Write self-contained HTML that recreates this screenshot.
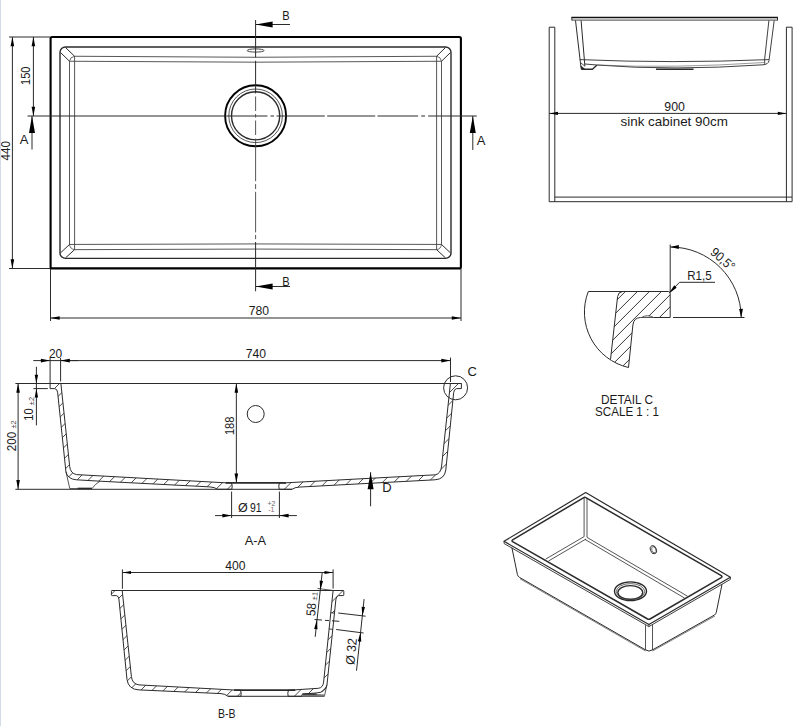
<!DOCTYPE html>
<html lang="en">
<head>
<meta charset="utf-8">
<title>Sink technical drawing</title>
<style>
html,body{margin:0;padding:0;background:#fff;}
body{width:800px;height:726px;overflow:hidden;position:relative;}
svg{position:absolute;left:0;top:0;display:block;}
svg text{font-family:"Liberation Sans",sans-serif;stroke:none;}
.edge{position:absolute;left:0;top:0;width:1px;height:726px;background:#d4dbe8;}
</style>
</head>
<body>
<svg width="800" height="726" viewBox="0 0 800 726" fill="none" stroke="#2b2b2b" stroke-linecap="butt" stroke-linejoin="round">
<g id="top-view">
<rect x="50.6" y="37" width="410.3" height="231.4" rx="1.5" stroke-width="2.1" stroke="#000"/>
<rect x="60" y="47" width="391" height="211.4" rx="5.5" stroke-width="1.4"/>
<path d="M69.5 61.25 Q255.5 63.1 441.5 61.25 L441.5 244.45 Q255.5 243.4 69.5 244.45 Z" stroke-width="0.9" stroke="#444"/>
<path d="M74.6 56.25 Q255.5 58.3 436.6 56.25 L436.6 249.65 Q255.5 248.5 74.6 249.65 Z" stroke-width="0.9" stroke="#444"/>
<line x1="60.6" y1="52.6" x2="69.5" y2="61.25" stroke-width="1.0" />
<line x1="65.6" y1="47.6" x2="74.6" y2="56.25" stroke-width="1.0" />
<path d="M69.5 61.25 Q70.1 56.85 74.6 56.25" stroke-width="0.7" />
<line x1="450.4" y1="52.6" x2="441.5" y2="61.25" stroke-width="1.0" />
<line x1="445.4" y1="47.6" x2="436.6" y2="56.25" stroke-width="1.0" />
<path d="M441.5 61.25 Q440.9 56.85 436.6 56.25" stroke-width="0.7" />
<line x1="60.6" y1="252.8" x2="69.5" y2="244.45" stroke-width="1.0" />
<line x1="65.6" y1="257.8" x2="74.6" y2="249.65" stroke-width="1.0" />
<path d="M69.5 244.45 Q70.1 249.05 74.6 249.65" stroke-width="0.7" />
<line x1="450.4" y1="252.8" x2="441.5" y2="244.45" stroke-width="1.0" />
<line x1="445.4" y1="257.8" x2="436.6" y2="249.65" stroke-width="1.0" />
<path d="M441.5 244.45 Q440.9 249.05 436.6 249.65" stroke-width="0.7" />
<circle cx="255.6" cy="115.8" r="30.5" stroke-width="1.9" stroke="#000"/>
<circle cx="255.6" cy="115.8" r="26.8" stroke-width="0.8"/>
<circle cx="255.6" cy="115.8" r="24.1" stroke-width="1.4"/>
<ellipse cx="255.6" cy="50.5" rx="8.5" ry="1.6" stroke-width="0.9" stroke="#333"/>
<line x1="27.5" y1="116" x2="267.5" y2="116" stroke-width="1.0" />
<line x1="270.5" y1="116" x2="274" y2="116" stroke-width="1.0" />
<line x1="276.5" y1="116" x2="324.8" y2="116" stroke-width="1.0" />
<line x1="327.2" y1="116" x2="375.2" y2="116" stroke-width="1.0" />
<line x1="377.5" y1="116" x2="418.1" y2="116" stroke-width="1.0" />
<line x1="421.2" y1="116" x2="425" y2="116" stroke-width="1.0" />
<line x1="428.1" y1="116" x2="476.8" y2="116" stroke-width="1.0" />
<line x1="255.6" y1="20" x2="255.6" y2="57.6" stroke-width="1.0" />
<line x1="255.6" y1="60.8" x2="255.6" y2="93.5" stroke-width="1.0" />
<line x1="255.6" y1="242" x2="255.6" y2="291.3" stroke-width="1.0" />
<line x1="255.6" y1="96.5" x2="255.6" y2="111" stroke-width="0.9" stroke="#444"/>
<line x1="255.6" y1="114" x2="255.6" y2="117.5" stroke-width="0.9" stroke="#444"/>
<line x1="255.6" y1="120.5" x2="255.6" y2="135" stroke-width="0.9" stroke="#444"/>
<line x1="255.6" y1="138.5" x2="255.6" y2="181.2" stroke-width="0.9" stroke="#444"/>
<line x1="255.6" y1="184.1" x2="255.6" y2="189" stroke-width="0.9" stroke="#444"/>
<line x1="255.6" y1="191.8" x2="255.6" y2="232.4" stroke-width="0.9" stroke="#444"/>
<line x1="255.6" y1="234.9" x2="255.6" y2="239.2" stroke-width="0.9" stroke="#444"/>
<line x1="32" y1="116" x2="32" y2="149.5" stroke-width="1.0" />
<polygon points="32,116 35,133 29,133" fill="#000" stroke="none"/>
<text x="24.2" y="144.4" font-size="13" text-anchor="middle" fill="#1a1a1a" >A</text>
<line x1="472.8" y1="116" x2="472.8" y2="150" stroke-width="1.0" />
<polygon points="472.8,116 475.8,133 469.8,133" fill="#000" stroke="none"/>
<text x="481" y="144.5" font-size="13" text-anchor="middle" fill="#1a1a1a" >A</text>
<line x1="255.6" y1="24.5" x2="290" y2="24.5" stroke-width="1.0" />
<polygon points="255.6,24.5 272.6,21.5 272.6,27.5" fill="#000" stroke="none"/>
<text x="286" y="19.6" font-size="13" text-anchor="middle" fill="#1a1a1a" textLength="7.4" lengthAdjust="spacingAndGlyphs" >B</text>
<line x1="255.6" y1="286.5" x2="290" y2="286.5" stroke-width="1.0" />
<polygon points="255.6,286.5 272.6,283.5 272.6,289.5" fill="#000" stroke="none"/>
<text x="286" y="285.6" font-size="13" text-anchor="middle" fill="#1a1a1a" textLength="7.4" lengthAdjust="spacingAndGlyphs" >B</text>
<line x1="9" y1="37" x2="50" y2="37" stroke-width="1.0" />
<line x1="9" y1="268.5" x2="50" y2="268.5" stroke-width="1.0" />
<line x1="12.4" y1="37" x2="12.4" y2="268.5" stroke-width="1.0" />
<polygon points="12.4,37 14.2,46.2 10.6,46.2" fill="#000" stroke="none"/>
<polygon points="12.4,268.5 10.6,259.3 14.2,259.3" fill="#000" stroke="none"/>
<text x="9.6" y="150.8" font-size="13" text-anchor="middle" fill="#1a1a1a" transform="rotate(-90 9.6 150.8)" textLength="19.5" lengthAdjust="spacingAndGlyphs" >440</text>
<line x1="33.4" y1="37" x2="33.4" y2="116" stroke-width="1.0" />
<polygon points="33.4,37 35.2,46.2 31.6,46.2" fill="#000" stroke="none"/>
<polygon points="33.4,116 31.6,106.8 35.2,106.8" fill="#000" stroke="none"/>
<text x="30.4" y="75.7" font-size="13" text-anchor="middle" fill="#1a1a1a" transform="rotate(-90 30.4 75.7)" textLength="18.4" lengthAdjust="spacingAndGlyphs" >150</text>
<line x1="50.5" y1="269" x2="50.5" y2="321" stroke-width="1.0" />
<line x1="461" y1="269" x2="461" y2="321" stroke-width="1.0" />
<line x1="50.5" y1="318" x2="461" y2="318" stroke-width="1.0" />
<polygon points="50.5,318 59.7,316.2 59.7,319.8" fill="#000" stroke="none"/>
<polygon points="461,318 451.8,319.8 451.8,316.2" fill="#000" stroke="none"/>
<text x="259" y="314.9" font-size="13" text-anchor="middle" fill="#1a1a1a" textLength="20.3" lengthAdjust="spacingAndGlyphs" >780</text>
</g>
<g id="cabinet-view">
<path d="M549.2 201.7 L549.2 27.2 L554.8 27.2 L554.8 201.7" stroke-width="1.0" />
<path d="M786.4 201.7 L786.4 27.2 L792.1 27.2 L792.1 201.7" stroke-width="1.0" />
<line x1="554.8" y1="197.1" x2="786.4" y2="197.1" stroke-width="1.0" />
<line x1="549.2" y1="201.7" x2="792.1" y2="201.7" stroke-width="1.0" />
<line x1="786.4" y1="197.1" x2="792.1" y2="197.1" stroke-width="1.0" />
<line x1="571.4" y1="17.6" x2="778" y2="17.6" stroke-width="1.5" stroke="#111"/>
<line x1="571.8" y1="20.1" x2="777.6" y2="20.1" stroke-width="1.0" stroke="#444"/>
<line x1="571.9" y1="17.2" x2="571.9" y2="20.4" stroke-width="1.0" />
<line x1="777.5" y1="17.2" x2="777.5" y2="20.4" stroke-width="1.0" />
<path d="M575.5 20.5 L580.4 62.5 L581.2 69.2" stroke-width="1.0" />
<path d="M581.1 20.5 L584.9 66.2" stroke-width="1.0" />
<path d="M579.8 59.6 Q672 63.6 769 59.6" stroke-width="0.9" />
<path d="M584.9 64 L597 65 Q672 71 763 64.8 Q768.4 64.5 769 60.5 L774.2 20.5" stroke-width="0.9" />
<path d="M768.9 20.5 L764.6 59.6 L764.8 64.5" stroke-width="0.9" />
<path d="M580.4 62.5 L584.9 66.2" stroke-width="0.8" />
<path d="M581.2 69.2 L592.4 69.2 L596.8 65.2" stroke-width="1.4" />
<path d="M581 66 L582 69 L584.5 69 Z" stroke-width="0.8" fill="#111"/>
<path d="M597 65 Q672 68.6 764 62.5" stroke-width="0.6" stroke="#555"/>
<line x1="656" y1="69.3" x2="693.5" y2="69.3" stroke-width="1.4" />
<line x1="549.2" y1="113.4" x2="786.4" y2="113.4" stroke-width="1.0" />
<polygon points="549.4,113.4 558,111.7 558,115.1" fill="#000" stroke="none"/>
<polygon points="786.4,113.4 777.8,115.1 777.8,111.7" fill="#000" stroke="none"/>
<text x="674.6" y="110.7" font-size="13" text-anchor="middle" fill="#1a1a1a" textLength="20.6" lengthAdjust="spacingAndGlyphs" >900</text>
<text x="674.2" y="125.6" font-size="13" text-anchor="middle" fill="#1a1a1a" textLength="107.4" lengthAdjust="spacingAndGlyphs" >sink cabinet 90cm</text>
</g>
<g id="detail-c">
<clipPath id="clipC"><path d="M622.6 291.5 L668.4 291.5 Q670.2 291.5 670.2 293.3 L670.2 317.5 L653.6 317.5 Q647.5 314.2 641.4 317.5 L640.5 317.5 Q633.7 317.8 632.9 325 L628.5 367.5 Q618 365 610.5 359.5 L617.6 296.5 Q618.2 292 622.6 291.5 Z"/></clipPath>
<g clip-path="url(#clipC)">
<line x1="624.9" y1="280" x2="524.9" y2="380" stroke-width="0.95" />
<line x1="636.9" y1="280" x2="536.9" y2="380" stroke-width="0.95" />
<line x1="648.9" y1="280" x2="548.9" y2="380" stroke-width="0.95" />
<line x1="660.9" y1="280" x2="560.9" y2="380" stroke-width="0.95" />
<line x1="672.9" y1="280" x2="572.9" y2="380" stroke-width="0.95" />
<line x1="684.9" y1="280" x2="584.9" y2="380" stroke-width="0.95" />
<line x1="696.9" y1="280" x2="596.9" y2="380" stroke-width="0.95" />
<line x1="708.9" y1="280" x2="608.9" y2="380" stroke-width="0.95" />
<line x1="720.9" y1="280" x2="620.9" y2="380" stroke-width="0.95" />
<line x1="732.9" y1="280" x2="632.9" y2="380" stroke-width="0.95" />
</g>
<path d="M588.3 291.5 L668.4 291.5 Q670.2 291.5 670.2 293.3 L670.2 317.5 L653.6 317.5 M641.4 317.5 L640.5 317.5 Q633.7 317.8 632.9 325 L628.5 367.5" stroke-width="1.0" />
<path d="M641.4 317.5 Q647.5 314 653.6 317.5 Z" stroke-width="0.8" />
<path d="M610.5 359.5 L617.6 296.5 Q618.2 292 622.6 291.5" stroke-width="1.0" />
<path d="M588.3 291.5 A56.8 56.8 0 0 0 628.5 367.5" stroke-width="1.0" />
<line x1="670.2" y1="244.5" x2="670.2" y2="291.5" stroke-width="1.0" />
<line x1="673" y1="317.5" x2="744.5" y2="317.5" stroke-width="1.0" />
<path d="M670.2 247 A70.8 70.8 0 0 1 741.2 317.5" stroke-width="1.0" />
<polygon points="670.2,247 678.8,245.1 678.8,248.9" fill="#000" stroke="none"/>
<polygon points="741.2,317.5 739.13,308.94 742.93,308.86" fill="#000" stroke="none"/>
<text x="719.9" y="262.6" font-size="13" text-anchor="middle" fill="#1a1a1a" transform="rotate(41 719.9 262.6)" textLength="27.8" lengthAdjust="spacingAndGlyphs" >90,5°</text>
<line x1="679.5" y1="282.3" x2="715" y2="282.3" stroke-width="1.0" />
<line x1="679.5" y1="282.3" x2="670" y2="292.2" stroke-width="1.0" />
<polygon points="668.8,293.4 674.23,285.3 676.68,287.66" fill="#000" stroke="none"/>
<text x="699.5" y="280" font-size="13" text-anchor="middle" fill="#1a1a1a" textLength="24.5" lengthAdjust="spacingAndGlyphs" >R1,5</text>
<text x="627" y="404" font-size="13" text-anchor="middle" fill="#1a1a1a" textLength="52" lengthAdjust="spacingAndGlyphs" >DETAIL C</text>
<text x="627" y="416.2" font-size="13" text-anchor="middle" fill="#1a1a1a" textLength="64" lengthAdjust="spacingAndGlyphs" >SCALE 1 : 1</text>
</g>
<g id="section-aa">
<clipPath id="clipA"><path d="M50.1 383.5 L60.9 383.5 L69.7 466.5 Q70.4 473.4 76.5 474.6 L225.5 482.8 L231.6 482.9 Q232.7 486 231.8 489.3 L217.6 489.3 Q214.8 487.2 210 486.9 L100 481.2 L76.5 479.8 Q67.4 479.2 65.9 471.5 L57.6 392.2 Q57.2 389 54.6 388.6 L50.1 388.6 Z"/><path d="M461.4 383.5 L450.4 383.5 L441.6 466 Q440.8 473.6 435.5 474.8 L286 482.8 L279.4 482.9 Q278.3 486 279.2 489.3 L292 489.3 Q294.6 487.4 299 487.1 L435 479.8 Q444.6 479.2 445.8 470 L453.7 392.4 Q454.1 389 456.6 388.6 L461.4 388.6 Z"/></clipPath>
<g clip-path="url(#clipA)">
<line x1="73" y1="370" x2="-57" y2="500" stroke-width="0.85" />
<line x1="84.4" y1="370" x2="-45.6" y2="500" stroke-width="0.85" />
<line x1="95.8" y1="370" x2="-34.2" y2="500" stroke-width="0.85" />
<line x1="107.2" y1="370" x2="-22.8" y2="500" stroke-width="0.85" />
<line x1="118.6" y1="370" x2="-11.4" y2="500" stroke-width="0.85" />
<line x1="130" y1="370" x2="-0" y2="500" stroke-width="0.85" />
<line x1="141.4" y1="370" x2="11.4" y2="500" stroke-width="0.85" />
<line x1="152.8" y1="370" x2="22.8" y2="500" stroke-width="0.85" />
<line x1="164.2" y1="370" x2="34.2" y2="500" stroke-width="0.85" />
<line x1="175.6" y1="370" x2="45.6" y2="500" stroke-width="0.85" />
<line x1="187" y1="370" x2="57" y2="500" stroke-width="0.85" />
<line x1="198.4" y1="370" x2="68.4" y2="500" stroke-width="0.85" />
<line x1="209.8" y1="370" x2="79.8" y2="500" stroke-width="0.85" />
<line x1="221.2" y1="370" x2="91.2" y2="500" stroke-width="0.85" />
<line x1="232.6" y1="370" x2="102.6" y2="500" stroke-width="0.85" />
<line x1="244" y1="370" x2="114" y2="500" stroke-width="0.85" />
<line x1="255.4" y1="370" x2="125.4" y2="500" stroke-width="0.85" />
<line x1="266.8" y1="370" x2="136.8" y2="500" stroke-width="0.85" />
<line x1="278.2" y1="370" x2="148.2" y2="500" stroke-width="0.85" />
<line x1="289.6" y1="370" x2="159.6" y2="500" stroke-width="0.85" />
<line x1="301" y1="370" x2="171" y2="500" stroke-width="0.85" />
<line x1="312.4" y1="370" x2="182.4" y2="500" stroke-width="0.85" />
<line x1="323.8" y1="370" x2="193.8" y2="500" stroke-width="0.85" />
<line x1="335.2" y1="370" x2="205.2" y2="500" stroke-width="0.85" />
<line x1="346.6" y1="370" x2="216.6" y2="500" stroke-width="0.85" />
<line x1="358" y1="370" x2="228" y2="500" stroke-width="0.85" />
<line x1="369.4" y1="370" x2="239.4" y2="500" stroke-width="0.85" />
<line x1="380.8" y1="370" x2="250.8" y2="500" stroke-width="0.85" />
<line x1="392.2" y1="370" x2="262.2" y2="500" stroke-width="0.85" />
<line x1="403.6" y1="370" x2="273.6" y2="500" stroke-width="0.85" />
<line x1="415" y1="370" x2="285" y2="500" stroke-width="0.85" />
<line x1="426.4" y1="370" x2="296.4" y2="500" stroke-width="0.85" />
<line x1="437.8" y1="370" x2="307.8" y2="500" stroke-width="0.85" />
<line x1="449.2" y1="370" x2="319.2" y2="500" stroke-width="0.85" />
<line x1="460.6" y1="370" x2="330.6" y2="500" stroke-width="0.85" />
<line x1="472" y1="370" x2="342" y2="500" stroke-width="0.85" />
<line x1="483.4" y1="370" x2="353.4" y2="500" stroke-width="0.85" />
<line x1="494.8" y1="370" x2="364.8" y2="500" stroke-width="0.85" />
<line x1="506.2" y1="370" x2="376.2" y2="500" stroke-width="0.85" />
<line x1="517.6" y1="370" x2="387.6" y2="500" stroke-width="0.85" />
<line x1="529" y1="370" x2="399" y2="500" stroke-width="0.85" />
<line x1="540.4" y1="370" x2="410.4" y2="500" stroke-width="0.85" />
<line x1="551.8" y1="370" x2="421.8" y2="500" stroke-width="0.85" />
<line x1="563.2" y1="370" x2="433.2" y2="500" stroke-width="0.85" />
<line x1="574.6" y1="370" x2="444.6" y2="500" stroke-width="0.85" />
<line x1="586" y1="370" x2="456" y2="500" stroke-width="0.85" />
<line x1="597.4" y1="370" x2="467.4" y2="500" stroke-width="0.85" />
<line x1="608.8" y1="370" x2="478.8" y2="500" stroke-width="0.85" />
<line x1="620.2" y1="370" x2="490.2" y2="500" stroke-width="0.85" />
</g>
<path d="M50.1 383.5 L60.9 383.5 L69.7 466.5 Q70.4 473.4 76.5 474.6 L225.5 482.8 L231.6 482.9 Q232.7 486 231.8 489.3 L217.6 489.3 Q214.8 487.2 210 486.9 L100 481.2 L76.5 479.8 Q67.4 479.2 65.9 471.5 L57.6 392.2 Q57.2 389 54.6 388.6 L50.1 388.6 Z" stroke-width="1.0" />
<path d="M461.4 383.5 L450.4 383.5 L441.6 466 Q440.8 473.6 435.5 474.8 L286 482.8 L279.4 482.9 Q278.3 486 279.2 489.3 L292 489.3 Q294.6 487.4 299 487.1 L435 479.8 Q444.6 479.2 445.8 470 L453.7 392.4 Q454.1 389 456.6 388.6 L461.4 388.6 Z" stroke-width="1.0" />
<path d="M65.9 471.5 L69.8 488.6 L92 488.6 Q95 484 100 481.2" stroke-width="0.8" />
<line x1="77.6" y1="488.4" x2="92" y2="488.4" stroke-width="1.5" />
<line x1="225.5" y1="482.9" x2="286" y2="482.9" stroke-width="1.8" />
<line x1="15.4" y1="383.5" x2="461.4" y2="383.5" stroke-width="1.0" />
<line x1="15.4" y1="489.3" x2="292" y2="489.3" stroke-width="1.0" />
<circle cx="255.7" cy="414" r="8.5" stroke-width="1.0"/>
<circle cx="455.6" cy="387.8" r="12" stroke-width="1.0"/>
<text x="472.3" y="376.1" font-size="13" text-anchor="middle" fill="#1a1a1a" >C</text>
<line x1="33.3" y1="360.6" x2="78" y2="360.6" stroke-width="1.0" />
<line x1="60.7" y1="360.6" x2="450.5" y2="360.6" stroke-width="1.0" />
<line x1="50.1" y1="358" x2="50.1" y2="383.5" stroke-width="1.0" />
<line x1="60.6" y1="358" x2="60.6" y2="381.5" stroke-width="1.0" />
<line x1="450.5" y1="357.6" x2="450.5" y2="382" stroke-width="1.0" />
<polygon points="50.1,360.6 40.9,362.4 40.9,358.8" fill="#000" stroke="none"/>
<polygon points="60.6,360.6 69.8,358.8 69.8,362.4" fill="#000" stroke="none"/>
<polygon points="450.5,360.6 441.3,362.4 441.3,358.8" fill="#000" stroke="none"/>
<text x="55.6" y="357.7" font-size="13" text-anchor="middle" fill="#1a1a1a" textLength="13.3" lengthAdjust="spacingAndGlyphs" >20</text>
<text x="255.9" y="357.7" font-size="13" text-anchor="middle" fill="#1a1a1a" textLength="20.3" lengthAdjust="spacingAndGlyphs" >740</text>
<line x1="36.4" y1="366.8" x2="36.4" y2="425.4" stroke-width="1.0" />
<line x1="33.4" y1="388.6" x2="47.8" y2="388.6" stroke-width="1.0" />
<polygon points="36.4,383.5 34.7,374.7 38.1,374.7" fill="#000" stroke="none"/>
<polygon points="36.4,388.6 38.1,397.4 34.7,397.4" fill="#000" stroke="none"/>
<text x="33.3" y="414.6" font-size="13" text-anchor="middle" fill="#1a1a1a" transform="rotate(-90 33.3 414.6)" textLength="12.4" lengthAdjust="spacingAndGlyphs" >10</text>
<text x="33.6" y="401" font-size="7.5" text-anchor="middle" fill="#444" transform="rotate(-90 33.6 401)" >±2</text>
<line x1="18.1" y1="383.5" x2="18.1" y2="489.3" stroke-width="1.0" />
<polygon points="18.1,383.5 19.9,392.7 16.3,392.7" fill="#000" stroke="none"/>
<polygon points="18.1,489.3 16.3,480.1 19.9,480.1" fill="#000" stroke="none"/>
<text x="16.2" y="441.6" font-size="13" text-anchor="middle" fill="#1a1a1a" transform="rotate(-90 16.2 441.6)" textLength="19.5" lengthAdjust="spacingAndGlyphs" >200</text>
<text x="16" y="424.4" font-size="7.5" text-anchor="middle" fill="#444" transform="rotate(-90 16 424.4)" >±2</text>
<line x1="236.35" y1="383.5" x2="236.35" y2="482.5" stroke-width="1.0" />
<polygon points="236.35,383.5 238.15,392.7 234.55,392.7" fill="#000" stroke="none"/>
<polygon points="236.35,482.7 234.55,473.5 238.15,473.5" fill="#000" stroke="none"/>
<text x="234.3" y="425.8" font-size="13" text-anchor="middle" fill="#1a1a1a" transform="rotate(-90 234.3 425.8)" textLength="18.6" lengthAdjust="spacingAndGlyphs" >188</text>
<line x1="231.6" y1="491.6" x2="231.6" y2="518" stroke-width="1.0" />
<line x1="279.4" y1="491.6" x2="279.4" y2="518" stroke-width="1.0" />
<line x1="215" y1="515.6" x2="296.9" y2="515.6" stroke-width="1.0" />
<polygon points="231.6,515.6 222.4,517.4 222.4,513.8" fill="#000" stroke="none"/>
<polygon points="279.4,515.6 288.6,513.8 288.6,517.4" fill="#000" stroke="none"/>
<text x="242.85" y="512.2" font-size="12.5" text-anchor="middle" fill="#1a1a1a" >Ø</text>
<text x="255.7" y="512.2" font-size="13" text-anchor="middle" fill="#1a1a1a" textLength="11.6" lengthAdjust="spacingAndGlyphs" >91</text>
<text x="271.4" y="506.3" font-size="7" text-anchor="middle" fill="#666" >+2</text>
<text x="271.4" y="512.4" font-size="7" text-anchor="middle" fill="#866" >-1</text>
<line x1="370.6" y1="472.2" x2="370.6" y2="506.3" stroke-width="1.0" />
<polygon points="370.6,472.2 373.6,489.2 367.6,489.2" fill="#000" stroke="none"/>
<text x="387" y="492" font-size="13" text-anchor="middle" fill="#1a1a1a" >D</text>
<text x="255.4" y="544.6" font-size="13" text-anchor="middle" fill="#1a1a1a" textLength="21.4" lengthAdjust="spacingAndGlyphs" >A-A</text>
</g>
<g id="section-bb">
<clipPath id="clipB"><path d="M111.4 591.3 Q111.4 590.5 112.2 590.5 L122.2 590.5 L131.4 676.5 Q132.2 684 139 684.9 L234 690 L240.6 690.2 Q241.7 693.5 240.8 696.3 L228 696.3 Q225 693.8 221 693.6 L139 689.9 Q128.4 689.5 127 679.5 L118.9 599 Q118.6 596 116.4 595.6 L112.2 595.6 Q111.4 595.6 111.4 594.8 Z"/><path d="M343.8 591.3 Q343.8 590.5 343 590.5 L333.1 590.5 L323.6 682.2 Q323 687.6 318.5 688.3 L295.4 689.8 L288.4 690.2 Q287.3 693.5 288.2 696.3 L301.4 696.3 L302.6 694 L317 692.9 Q325.6 692.4 327 684.5 L335.9 599.4 Q336.3 596 338.6 595.6 L343 595.6 Q343.8 595.6 343.8 594.8 Z"/></clipPath>
<g clip-path="url(#clipB)">
<line x1="23" y1="580" x2="-107" y2="710" stroke-width="0.85" />
<line x1="34.4" y1="580" x2="-95.6" y2="710" stroke-width="0.85" />
<line x1="45.8" y1="580" x2="-84.2" y2="710" stroke-width="0.85" />
<line x1="57.2" y1="580" x2="-72.8" y2="710" stroke-width="0.85" />
<line x1="68.6" y1="580" x2="-61.4" y2="710" stroke-width="0.85" />
<line x1="80" y1="580" x2="-50" y2="710" stroke-width="0.85" />
<line x1="91.4" y1="580" x2="-38.6" y2="710" stroke-width="0.85" />
<line x1="102.8" y1="580" x2="-27.2" y2="710" stroke-width="0.85" />
<line x1="114.2" y1="580" x2="-15.8" y2="710" stroke-width="0.85" />
<line x1="125.6" y1="580" x2="-4.4" y2="710" stroke-width="0.85" />
<line x1="137" y1="580" x2="7" y2="710" stroke-width="0.85" />
<line x1="148.4" y1="580" x2="18.4" y2="710" stroke-width="0.85" />
<line x1="159.8" y1="580" x2="29.8" y2="710" stroke-width="0.85" />
<line x1="171.2" y1="580" x2="41.2" y2="710" stroke-width="0.85" />
<line x1="182.6" y1="580" x2="52.6" y2="710" stroke-width="0.85" />
<line x1="194" y1="580" x2="64" y2="710" stroke-width="0.85" />
<line x1="205.4" y1="580" x2="75.4" y2="710" stroke-width="0.85" />
<line x1="216.8" y1="580" x2="86.8" y2="710" stroke-width="0.85" />
<line x1="228.2" y1="580" x2="98.2" y2="710" stroke-width="0.85" />
<line x1="239.6" y1="580" x2="109.6" y2="710" stroke-width="0.85" />
<line x1="251" y1="580" x2="121" y2="710" stroke-width="0.85" />
<line x1="262.4" y1="580" x2="132.4" y2="710" stroke-width="0.85" />
<line x1="273.8" y1="580" x2="143.8" y2="710" stroke-width="0.85" />
<line x1="285.2" y1="580" x2="155.2" y2="710" stroke-width="0.85" />
<line x1="296.6" y1="580" x2="166.6" y2="710" stroke-width="0.85" />
<line x1="308" y1="580" x2="178" y2="710" stroke-width="0.85" />
<line x1="319.4" y1="580" x2="189.4" y2="710" stroke-width="0.85" />
<line x1="330.8" y1="580" x2="200.8" y2="710" stroke-width="0.85" />
<line x1="342.2" y1="580" x2="212.2" y2="710" stroke-width="0.85" />
<line x1="353.6" y1="580" x2="223.6" y2="710" stroke-width="0.85" />
<line x1="365" y1="580" x2="235" y2="710" stroke-width="0.85" />
<line x1="376.4" y1="580" x2="246.4" y2="710" stroke-width="0.85" />
<line x1="387.8" y1="580" x2="257.8" y2="710" stroke-width="0.85" />
<line x1="399.2" y1="580" x2="269.2" y2="710" stroke-width="0.85" />
<line x1="410.6" y1="580" x2="280.6" y2="710" stroke-width="0.85" />
<line x1="422" y1="580" x2="292" y2="710" stroke-width="0.85" />
<line x1="433.4" y1="580" x2="303.4" y2="710" stroke-width="0.85" />
<line x1="444.8" y1="580" x2="314.8" y2="710" stroke-width="0.85" />
<line x1="456.2" y1="580" x2="326.2" y2="710" stroke-width="0.85" />
<line x1="467.6" y1="580" x2="337.6" y2="710" stroke-width="0.85" />
<line x1="479" y1="580" x2="349" y2="710" stroke-width="0.85" />
<line x1="490.4" y1="580" x2="360.4" y2="710" stroke-width="0.85" />
<line x1="501.8" y1="580" x2="371.8" y2="710" stroke-width="0.85" />
<line x1="513.2" y1="580" x2="383.2" y2="710" stroke-width="0.85" />
</g>
<polygon points="330,612.7 335.4,613.3 333.7,629.5 328.3,628.9" fill="#fff" stroke="none"/>
<path d="M111.4 591.3 Q111.4 590.5 112.2 590.5 L122.2 590.5 L131.4 676.5 Q132.2 684 139 684.9 L234 690 L240.6 690.2 Q241.7 693.5 240.8 696.3 L228 696.3 Q225 693.8 221 693.6 L139 689.9 Q128.4 689.5 127 679.5 L118.9 599 Q118.6 596 116.4 595.6 L112.2 595.6 Q111.4 595.6 111.4 594.8 Z" stroke-width="1.0" />
<path d="M343.8 591.3 Q343.8 590.5 343 590.5 L333.1 590.5 L323.6 682.2 Q323 687.6 318.5 688.3 L295.4 689.8 L288.4 690.2 Q287.3 693.5 288.2 696.3 L301.4 696.3 L302.6 694 L317 692.9 Q325.6 692.4 327 684.5 L335.9 599.4 Q336.3 596 338.6 595.6 L343 595.6 Q343.8 595.6 343.8 594.8 Z" stroke-width="1.0" />
<line x1="330.6" y1="612.7" x2="334.6" y2="613.2" stroke-width="0.9" />
<line x1="328.9" y1="628.9" x2="332.9" y2="629.4" stroke-width="0.9" />
<line x1="111.8" y1="590.5" x2="343.4" y2="590.5" stroke-width="1.0" />
<line x1="234.1" y1="690.2" x2="295.4" y2="690.2" stroke-width="1.8" />
<line x1="228" y1="696.3" x2="324.3" y2="696.3" stroke-width="1.0" />
<path d="M327 684.5 L324.4 696.3" stroke-width="0.8" />
<polygon points="302.5,694.3 316,694 325,694.4 324.4,696.6 302.5,696.6" fill="#777" stroke="none"/>
<line x1="302.5" y1="694.1" x2="316.5" y2="694.1" stroke-width="1.3" />
<line x1="122.4" y1="569.4" x2="122.4" y2="588.8" stroke-width="1.0" />
<line x1="333.1" y1="569.4" x2="333.1" y2="588.6" stroke-width="1.0" />
<line x1="122.4" y1="572.5" x2="333.1" y2="572.5" stroke-width="1.0" />
<polygon points="122.4,572.5 131,570.9 131,574.1" fill="#000" stroke="none"/>
<polygon points="333.1,572.5 324.5,574.1 324.5,570.9" fill="#000" stroke="none"/>
<text x="235.5" y="570" font-size="13" text-anchor="middle" fill="#1a1a1a" textLength="20.3" lengthAdjust="spacingAndGlyphs" >400</text>
<line x1="322.2" y1="572.5" x2="315.2" y2="636.8" stroke-width="1.0" />
<line x1="317.5" y1="588.4" x2="333.1" y2="590.5" stroke-width="0.8" />
<polygon points="320.3,590.3 319.66,580.57 323.04,580.94" fill="#000" stroke="none"/>
<polygon points="316.9,619.6 317.54,629.33 314.16,628.96" fill="#000" stroke="none"/>
<line x1="314.5" y1="619.5" x2="322" y2="620.05" stroke-width="1.0" />
<line x1="325" y1="620.3" x2="329" y2="620.6" stroke-width="1.0" />
<line x1="332" y1="620.8" x2="339.3" y2="621.3" stroke-width="1.0" />
<text x="315.6" y="609.9" font-size="13" text-anchor="middle" fill="#1a1a1a" transform="rotate(-84 315.6 609.9)" textLength="13.3" lengthAdjust="spacingAndGlyphs" >58</text>
<text x="317.3" y="596.3" font-size="7.5" text-anchor="middle" fill="#444" transform="rotate(-84 317.3 596.3)" >±1</text>
<line x1="364.1" y1="599.1" x2="356.5" y2="670.7" stroke-width="1.0" />
<line x1="338.2" y1="613" x2="365.6" y2="616.2" stroke-width="1.0" />
<line x1="336.2" y1="629.5" x2="363.6" y2="633" stroke-width="1.0" />
<polygon points="362.35,616 361.63,606.67 365.01,607.03" fill="#000" stroke="none"/>
<polygon points="360.55,632.4 361.27,641.73 357.89,641.37" fill="#000" stroke="none"/>
<g transform="translate(351.05 651.1) rotate(-84)">
<text x="-8.8" y="4.65" font-size="12.5" text-anchor="middle" fill="#1a1a1a" >Ø</text>
<text x="6.2" y="4.65" font-size="13" text-anchor="middle" fill="#1a1a1a" textLength="13.6" lengthAdjust="spacingAndGlyphs" >32</text>
</g>
<text x="226.8" y="717.7" font-size="13" text-anchor="middle" fill="#1a1a1a" textLength="17.5" lengthAdjust="spacingAndGlyphs" >B-B</text>
</g>
<g id="iso-view">
<path d="M585.7 492.6 L730.4 577.2 L648.9 624.4 L504 541.3 Z" stroke-width="1.2" />
<path d="M504 541.3 L504.2 543.6 L648.9 626.6 L730.4 579.4 L730.4 577.2" stroke-width="0.9" />
<line x1="648.9" y1="624.4" x2="648.9" y2="626.6" stroke-width="0.9" />
<path d="M585.4 497.4 L721.3 575.6 Q722.6 576.6 721.2 577.6 L650 619 Q648.9 619.7 647.6 619 L512.6 541.6 Q511.4 540.6 512.6 539.8 L584.2 497.4 Q584.8 497 585.4 497.4 Z" stroke-width="1.5" />
<line x1="584.1" y1="498" x2="584.1" y2="536.6" stroke-width="0.8" />
<line x1="587" y1="498.4" x2="587" y2="537.4" stroke-width="0.8" />
<line x1="584.1" y1="536.6" x2="545.5" y2="559.2" stroke-width="0.8" />
<line x1="586" y1="539" x2="548.5" y2="561" stroke-width="0.8" />
<line x1="587" y1="537.4" x2="687.5" y2="596.2" stroke-width="0.8" />
<line x1="585" y1="539.4" x2="684.5" y2="598" stroke-width="0.8" />
<ellipse cx="653.4" cy="549.7" rx="2.9" ry="4.2" stroke-width="0.9" transform="rotate(-20 653.4 549.7)"/>
<ellipse cx="653.8" cy="549.9" rx="2" ry="3.2" stroke-width="0.6" transform="rotate(-20 653.4 549.7)"/>
<ellipse cx="630.5" cy="591.2" rx="16" ry="9.3" stroke-width="1.4"/>
<ellipse cx="630.5" cy="591.6" rx="14.2" ry="8" stroke-width="0.7"/>
<ellipse cx="630.3" cy="592.4" rx="12.4" ry="6.8" stroke-width="1.3"/>
<path d="M511.9 547.6 L517.4 574.5 Q517.8 576.4 519.5 577.4 L645 649.6 Q649 652.6 653 649.6 L714.5 615 Q716 614 716.3 612.3 L722 584.4" stroke-width="1.0" />
<path d="M520 578.8 L645.5 651" stroke-width="0.6" />
<path d="M652.5 651 L715 616" stroke-width="0.6" />
<line x1="645.5" y1="625.2" x2="645.5" y2="650" stroke-width="0.8" />
<line x1="652.5" y1="625" x2="652.5" y2="650" stroke-width="0.8" />
</g>
</svg>
<div class="edge"></div>
</body>
</html>
